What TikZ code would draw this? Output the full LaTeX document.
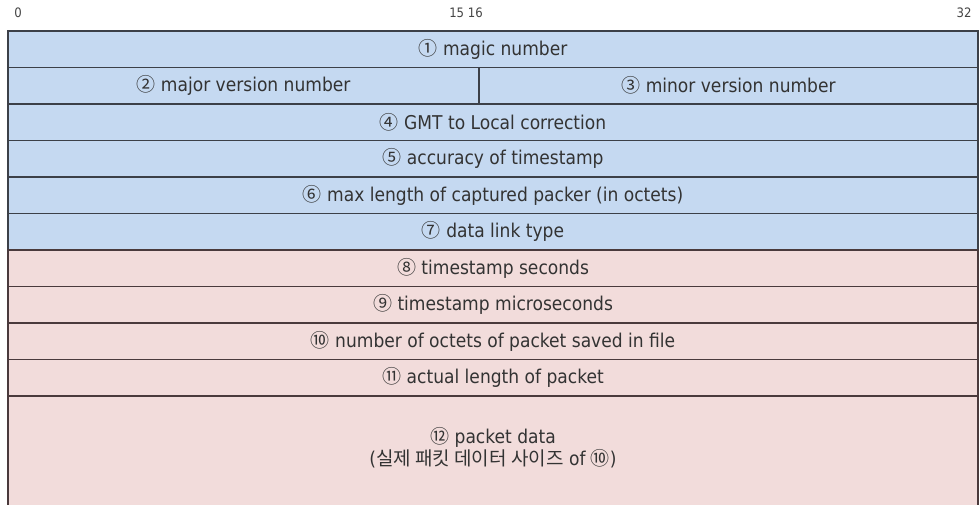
\documentclass[tikz,border=0pt]{standalone}
\usepackage{fontspec}
\setmainfont{DejaVu Sans Condensed}
\newfontfamily\cjk{Noto Sans CJK KR}
\definecolor{hdrblue}{HTML}{C5D9F1}
\definecolor{recpink}{HTML}{F2DCDB}
\definecolor{edgeblue}{HTML}{3C4048}
\definecolor{edgepink}{HTML}{4A3A3C}
\definecolor{ink}{HTML}{333333}
\definecolor{rulerink}{HTML}{444444}
\newcommand{\cn}[1]{{\cjk #1}}
\begin{document}
\begin{tikzpicture}[x=1pt,y=-1pt,
  field/.style={rectangle, inner sep=0pt, line width=1.3pt, text=ink,
    font=\fontsize{19}{22}\selectfont, align=center},
  hdrfield/.style={field, fill=hdrblue, draw=edgeblue},
  recfield/.style={field, fill=recpink, draw=edgepink},
  full/.style={minimum width=970pt, minimum height=36.5pt},
  ruler/.style={font=\fontsize{13}{15}\selectfont, text=rulerink, inner sep=0pt}]
\useasboundingbox (0,0) rectangle (980,504);
% bit ruler
\node[ruler] (b0) at (18,13) {0};
\node[ruler] (b15) at (466,13) {15 16};
\node[ruler] (b32) at (964,13) {32};
% global header
\node[hdrfield, full] (magic) at (493,49.25) {\cn{①} magic number};
\node[hdrfield, minimum width=471pt, minimum height=36.5pt] (major) at (243.5,85.75) {\cn{②} major version number};
\node[hdrfield, minimum width=499pt, minimum height=36.5pt] (minor) at (728.5,85.75) {\cn{③} minor version number};
\node[hdrfield, full] (zone) at (493,122.25) {\cn{④} GMT to Local correction};
\node[hdrfield, full] (sigfigs) at (493,158.75) {\cn{⑤} accuracy of timestamp};
\node[hdrfield, full] (snaplen) at (493,195.25) {\cn{⑥} max length of captured packer (in octets)};
\node[hdrfield, full] (network) at (493,231.75) {\cn{⑦} data link type};
% packet record
\node[recfield, full] (tssec) at (493,268.25) {\cn{⑧} timestamp seconds};
\node[recfield, full] (tsusec) at (493,304.75) {\cn{⑨} timestamp microseconds};
\node[recfield, full] (incl) at (493,341.25) {\cn{⑩} number of octets of packet saved in file};
\node[recfield, full] (orig) at (493,377.75) {\cn{⑪} actual length of packet};
\node[recfield, minimum width=970pt, minimum height=111pt] (data) at (493,451.5) {};
\node[field, anchor=center] (datatext) at (493,448)
  {\cn{⑫} packet data\\(\cn{실제 패킷 데이터 사이즈} of \cn{⑩})};
\end{tikzpicture}
\end{document}
